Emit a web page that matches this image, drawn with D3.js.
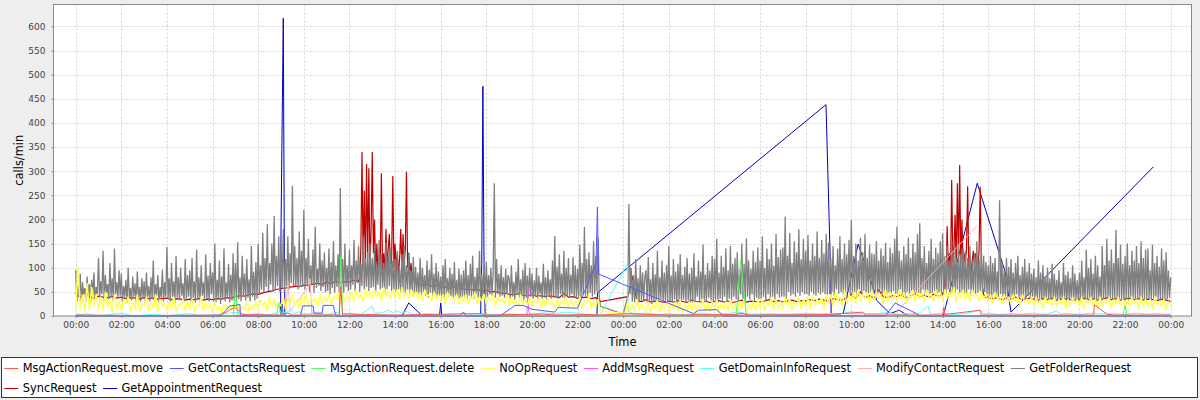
<!DOCTYPE html>
<html><head><meta charset="utf-8">
<script src="https://cdn.jsdelivr.net/npm/d3@7"></script>
<style>
body{margin:0;background:#eeeeee;}
svg{display:block;font-family:"DejaVu Sans",sans-serif;}
</style></head><body>
<svg id="chart" width="1200" height="400"></svg>
<script>
// ---------------- DATA ----------------
const seriesNames = ["MsgActionRequest.move","GetContactsRequest","MsgActionRequest.delete","NoOpRequest","AddMsgRequest","GetDomainInfoRequest","ModifyContactRequest","GetFolderRequest","SyncRequest","GetAppointmentRequest"];
const seriesColors = ["#FF5555","#5555FF","#55FF55","#FFFF55","#FF55FF","#55FFFF","#FFAFAF","#808080","#C00000","#0000C0"];
const yTickValues = [0,50,100,150,200,250,300,350,400,450,500,550,600];
const xLabel = "Time";
const yLabel = "calls/min";

// GetFolderRequest, day 1: from 0.00 h, every 0.05 h
const folderDay1 = [
95,30,62,38,88,25,70,45,58,30,82,40,66,28,75,42,90,32,60,45,
120,38,72,45,135,30,85,48,66,35,110,40,78,30,140,45,70,38,95,42,
88,30,62,40,75,28,100,38,58,32,82,40,68,28,92,35,60,30,78,38,
72,28,90,40,62,30,80,35,115,30,66,42,85,28,60,38,96,30,70,40,
143,35,78,30,110,40,72,28,125,38,80,32,100,42,68,30,118,35,85,40,
95,30,120,38,72,28,138,35,80,30,105,42,70,32,128,35,84,30,110,45,
90,30,150,28,75,38,115,25,82,35,140,30,70,40,108,28,86,32,130,30,
110,28,153,35,80,30,125,42,88,32,118,38,76,30,145,40,92,32,112,36,
150,45,105,55,172,48,120,60,190,52,110,65,150,50,207,55,125,62,165,50,
150,58,180,50,118,62,165,55,130,68,270,58,145,62,120,55,175,60,135,60,
220,55,120,62,160,50,105,65,138,48,185,58,98,62,150,52,115,60,132,50,
100,52,140,45,112,58,155,48,105,60,128,50,265,55,118,48,150,60,105,52,
138,55,105,65,158,52,115,68,145,50,108,62,165,55,120,60,132,52,150,58,
120,60,142,50,105,65,158,55,128,58,110,48,152,56,125,62,140,52,115,55,
118,50,135,55,98,48,128,52,145,45,105,55,132,48,95,52,122,45,102,50,
90,45,120,40,100,50,85,42,115,38,96,48,128,40,88,45,110,38,92,42,
82,40,105,38,118,45,78,40,100,42,88,38,112,40,75,38,98,36,86,40,
95,38,115,36,85,42,108,40,125,36,82,45,100,38,135,36,88,40,105,38,
112,40,85,45,100,42,92,275,38,118,45,88,40,105,42,80,38,98,40,85,
78,36,105,40,70,34,92,45,118,36,76,40,96,32,110,38,84,36,100,40,
88,36,74,40,100,32,84,45,70,36,108,38,80,34,95,40,76,36,115,38,
166,40,102,36,128,45,88,38,135,36,100,42,120,38,86,45,122,40,105,36,
98,40,148,36,110,45,185,42,118,38,132,48,105,40,155,45,125,50,162,42,
20];
const folderGap = [[24.0,4]];
// GetFolderRequest, day 2: from 24.20 h, every 0.05 h
const folderDay2 = [
40,232,45,100,30,85,28,118,35,78,28,105,32,90,30,82,
95,28,122,32,76,25,110,30,86,28,135,30,80,35,115,28,90,30,105,30,
145,30,84,28,118,35,92,25,108,32,128,30,85,34,102,28,120,32,88,28,
100,28,130,32,82,40,115,30,92,35,148,32,86,28,110,38,95,32,125,30,
118,32,160,28,90,36,125,32,102,40,140,30,95,36,145,32,108,40,120,34,
132,32,96,45,150,36,108,28,161,40,115,34,98,45,135,32,112,38,142,36,
115,36,165,40,100,32,140,45,118,36,150,40,104,34,170,45,122,38,138,40,
142,40,206,36,125,50,172,42,110,45,155,40,132,48,180,42,118,50,160,45,
135,45,168,42,115,50,150,45,125,42,175,48,120,44,158,50,130,45,170,44,
152,45,120,50,145,42,105,55,140,46,165,50,118,44,150,48,128,52,158,46,
199,46,125,50,150,42,115,55,162,46,132,52,170,48,120,46,148,50,130,46,
128,50,155,42,115,55,140,46,125,50,152,44,112,48,142,46,130,52,160,46,
185,46,135,55,115,46,145,42,128,50,162,46,120,52,150,44,132,48,170,46,
192,46,120,55,145,42,110,50,135,46,160,48,118,52,142,46,130,50,155,46,
171,50,125,46,145,55,115,46,155,50,132,48,120,55,150,46,128,50,140,46,
135,46,120,55,145,42,110,50,130,46,155,48,118,52,138,46,125,50,112,46,
105,40,125,36,110,45,120,40,92,36,240,45,115,40,95,36,120,40,102,38,
118,40,90,36,110,45,125,36,85,40,102,38,118,36,92,42,110,36,88,40,
98,35,80,32,115,36,90,32,105,35,82,33,100,36,78,32,108,35,88,33,
75,30,95,35,70,32,110,35,85,30,92,35,78,32,105,30,88,35,74,30,
90,30,115,35,80,32,138,35,100,30,118,32,88,35,125,30,105,35,82,30,
145,35,105,32,160,35,115,30,138,35,110,32,178,35,120,30,148,35,108,32,
125,35,150,32,105,40,135,35,115,32,145,35,110,33,155,35,120,32,138,35,
140,35,95,32,148,35,110,40,125,35,102,32,140,35,115,33,132,35,95,38,
80];

// NoOpRequest, day 1: from 0.0 h, every 0.1 h
const noOpDay1 = [
10,102,15,45,8,68,12,60,20,45,
15,40,10,50,20,35,8,45,15,30,
10,35,25,40,8,30,15,45,10,25,
20,40,10,30,15,45,8,35,20,25,
10,30,15,40,8,25,20,35,10,30,
15,35,8,25,20,40,10,30,15,25,
8,30,12,20,5,25,15,20,10,25,
15,25,8,20,12,30,10,20,15,30,
15,35,20,30,10,40,20,35,15,30,
20,40,15,35,25,45,20,35,15,40,
25,45,20,40,30,35,20,45,25,40,
30,45,25,40,35,50,25,45,30,40,
35,50,30,55,35,45,30,55,40,50,
35,55,40,50,30,60,40,50,35,55,
40,55,35,60,40,50,35,55,40,50,
35,50,30,55,40,45,30,50,35,45,
30,45,25,50,35,40,30,45,25,40,
30,45,25,40,35,50,25,40,30,45,
25,40,30,45,20,40,30,35,25,45,
20,40,25,35,20,45,25,35,20,40,
20,35,25,40,15,35,20,40,25,30,
15,35,20,30,25,40,15,35,20,30,
20,40,15,35,25,45,15,30,20,35,
10];
// NoOpRequest, day 2: from 24.1 h, every 0.1 h
const noOpDay2 = [
5,30,10,25,8,35,12,25,15,
10,30,5,25,15,35,8,25,12,30,
8,25,15,30,10,35,5,25,12,30,
10,30,8,25,15,35,10,25,8,30,
12,35,8,25,15,30,10,35,12,25,
10,30,15,35,8,25,12,30,10,35,
15,35,10,30,20,40,12,35,15,30,
15,40,20,35,12,30,20,40,15,35,
20,40,15,45,20,35,25,40,15,45,
25,45,20,50,30,40,20,55,25,45,
30,50,25,55,30,45,35,50,25,55,
30,50,35,45,25,55,30,50,35,45,
30,55,35,50,25,45,35,55,30,50,
35,50,30,55,40,45,30,55,35,50,
30,55,35,50,40,60,30,50,35,55,
35,50,30,55,40,45,30,50,35,45,
30,45,25,50,35,40,25,45,30,40,
25,45,30,40,20,45,30,35,25,40,
20,40,25,35,15,40,25,35,20,40,
20,35,25,40,15,35,20,40,25,35,
20,40,15,35,25,40,20,35,15,40,
20,35,25,40,15,35,25,40,20,35,
15,35,20,40,25,35,15,40,20,35,
20,35,15,40,25,30,20,35,15,30,
20];

// SyncRequest
const syncA = [ // from 0.0 h, every 0.2 h
47,38,55,40,37,41,39,38,40,37,
39,36,38,37,35,38,36,37,35,36,
37,34,36,35,33,35,34,36,33,35,
34,36,35,38,37,40,42,41,44,46,
45,48,50,52,55,57,58,60,62,61,
64,63,66,68,65,70,67,72,69,71,
70,74,72];
const syncSpikes1 = [ // from 12.45 h, every 0.05 h
80,140,340,110,260,100,315,120,306,95,180,340,130,200,90,150,85,120,100,296,
95,130,90,180,100,140,170,95,120,290,100,150,90,130,85,120,180,95,170,110,
140,299,100,130,85,110,75,90,70,72,68];
const syncB = [ // from 15.0 h, every 0.2 h
66,64,65,62,63,60,61,58,60,57,
56,55,54,55,52,53,50,51,48,47,
45,44,46,43,42,44,41,42,40,41,
40,38,47,39,40,37,38,39,36,38,
30];
const syncC = [ // from 24.2 h, every 0.2 h
40,82,32,30,34,29,31,30,28,
31,29,32,30,28,33,30,29,31,28,
30,32,29,31,28,30,33,29,31,30,
29,31,34,30,32,29,31,33,30,32,
31,34,32,35,33,31,36,34,33,38,
45,36,50,38,42,37,55,40,38,42,
40,44,38,42,46,40,43,39,45,41];
const syncSpikes2 = [ // from 37.85 h, every 0.05 h
42,45,40,48,44,90,60,186,100,130,95,282,110,140,210,100,275,120,313,105,
200,95,130,110,140,269,100,125,90,115,135,100,130,120,95,137,268,110,60,45,
40,38,42,37];
const syncD = [ // from 40.2 h, every 0.2 h
36,38,34,37,35,39,36,34,37,
35,33,36,34,37,33,35,36,34,33,
35,37,34,36,33,35,38,34,36,33,
35,37,34,36,33,35,34,32,35,33,
30];

// Sparse series: [hour, calls/min]
const movePoints = [[0,2],[3,1],[6.3,2],[6.6,8],[6.8,14],[7.0,18],[7.15,10],[7.3,3],[9.0,2],[9.3,6],[9.5,2],[11.55,2],[11.62,60],[11.7,4],[13.0,3],[14.0,2],[17.8,5],[18.0,2],[20.5,4],[21,2],[22.7,3],[23.0,2],[24.2,5],[26,2],[28.9,3],[29.2,6],[29.5,2],[33,3],[34.5,8],[34.6,2],[38.0,2],[38.05,18],[38.1,3],[39.65,12],[39.7,2],[44.62,2],[44.66,23],[45.2,4],[45.5,2],[48,2]];
const contactsPoints = [[0,0],[6.33,0],[6.6,12],[6.75,21],[7.0,22],[7.2,24],[7.22,0],[9.0,0],[9.05,25],[9.1,0],[9.85,0],[9.95,21],[10.4,21],[10.45,6],[10.8,6],[10.85,22],[11.3,22],[11.35,8],[11.45,0],[16.85,0],[17.0,8],[17.1,0],[18.6,0],[19.26,22],[19.62,22],[20.0,14],[21.0,8],[21.15,18],[22.0,16],[22.81,109],[22.87,226],[22.92,87],[27.08,5],[27.3,12],[28.1,13],[28.4,0],[35.5,0],[35.92,27],[36.85,5],[37.0,0],[48,0]];
const deletePoints = [[0,0],[6.9,0],[7.0,50],[7.1,5],[7.2,0],[8.8,0],[8.9,27],[9.0,0],[11.55,0],[11.62,123],[11.7,0],[28.95,0],[29.15,116],[29.4,0],[45.9,0],[46.0,21],[46.1,0],[48,0]];
const addMsgPoints = [[0,0],[19.78,0],[19.82,64],[19.85,12],[19.95,0],[48,0]];
const domainInfoPoints = [[0,2],[0.5,5],[1,0],[1.5,3],[2,6],[2.5,0],[3,2],[3.5,4],[4,0],[4.5,3],[5,5],[5.5,0],[6,2],[6.5,4],[7,8],[7.5,3],[8,5],[8.5,2],[9,10],[9.2,6],[9.4,12],[9.6,5],[9.8,9],[10,4],[10.5,6],[11,3],[11.5,8],[11.7,4],[12,6],[12.5,3],[13,20],[13.1,5],[13.5,8],[13.7,12],[13.9,7],[14.1,11],[14.3,6],[14.5,10],[14.7,4],[15,3],[15.5,5],[16,2],[16.5,4],[17,6],[17.5,2],[18,4],[18.5,3],[19,5],[19.5,2],[20,4],[20.5,6],[21,5],[21.5,8],[22,6],[22.5,3],[23,3],[24.18,108],[24.22,10],[24.5,4],[25,6],[25.5,3],[26,5],[26.5,2],[27,4],[27.5,6],[28,3],[28.5,5],[29,8],[29.5,4],[30,3],[30.5,5],[31,2],[31.5,4],[32,6],[32.5,3],[33,5],[33.5,4],[34,9],[34.5,6],[35,4],[35.5,7],[36,3],[36.5,5],[37,6],[37.37,21],[37.45,4],[38,6],[38.5,3],[39,5],[39.65,12],[39.8,4],[40,6],[40.5,3],[41,5],[41.5,4],[42,6],[42.5,3],[43,10],[43.2,4],[43.5,5],[44,3],[44.5,6],[45,4],[45.5,5],[46,3],[46.5,6],[47,4],[47.5,5],[48,3]];
const modifyContactPoints = [[0,0],[9.2,0],[9.3,72],[9.4,10],[10.2,60],[10.27,78],[10.35,5],[12,0],[35.92,5],[39.5,186]];
const appointmentPoints = [[0,0],[8.98,0],[9.0,178],[9.1,617],[9.14,195],[9.17,0],[14.3,0],[14.6,27],[15.2,0],[15.95,0],[16.0,27],[16.05,0],[17.75,0],[17.8,110],[17.85,476],[17.9,109],[17.95,0],[22.85,0],[22.87,48],[32.89,438],[33.08,109],[33.12,0],[33.65,6],[34.3,149],[35.04,47],[35.1,33],[35.7,5],[36.1,12],[36.5,0],[38.03,0],[39.52,275],[40.74,92],[41.0,8],[47.24,309]];

// ---------------- BUILD ----------------
function regular(start, step, vals){ return vals.map((v,i)=>[start + i*step, v]); }
const seriesData = [
  movePoints,
  contactsPoints,
  deletePoints,
  regular(0,0.1,noOpDay1).concat(regular(24.1,0.1,noOpDay2)),
  addMsgPoints,
  domainInfoPoints,
  modifyContactPoints,
  regular(0,0.05,folderDay1).concat(folderGap, regular(24.2,0.05,folderDay2)),
  regular(0,0.2,syncA).concat(regular(12.45,0.05,syncSpikes1), regular(15.0,0.2,syncB), regular(24.2,0.2,syncC), regular(37.85,0.05,syncSpikes2), regular(40.2,0.2,syncD)),
  appointmentPoints
];
const seriesWidths = [1,1,1,1.5,1,1,1,1.3,1.2,1];

const svg = d3.select("#chart");
const base = Date.UTC(2010,0,4);
const toDate = h => new Date(base + h*3600e3);
const L = 53.5, R = 1191.5, T = 4.5, B = 316;
const x = d3.scaleUtc().domain([toDate(-0.973), toDate(48.912)]).range([L, R]);
const y = d3.scaleLinear().domain([0, 645.5]).range([B, T]);

svg.append("rect").attr("width",1200).attr("height",400).attr("fill","#eeeeee");
svg.append("rect").attr("x",L).attr("y",T).attr("width",R-L).attr("height",B-T).attr("fill","#ffffff");

const xTicks = x.ticks(d3.utcHour.every(2));
const grid = svg.append("g").attr("stroke","#d4d4d4").attr("stroke-width",1).attr("stroke-dasharray","2,2");
grid.selectAll("line.v").data(xTicks).join("line").attr("class","v")
  .attr("x1",d=>Math.round(x(d))+0.5).attr("x2",d=>Math.round(x(d))+0.5).attr("y1",T).attr("y2",B);
grid.selectAll("line.h").data(yTickValues.filter(v=>v>0)).join("line").attr("class","h")
  .attr("x1",L).attr("x2",R).attr("y1",d=>Math.round(y(d))+0.5).attr("y2",d=>Math.round(y(d))+0.5);

svg.append("clipPath").attr("id","plotclip").append("rect").attr("x",L).attr("y",T).attr("width",R-L).attr("height",B-T+1);
const lineGen = d3.line().x(d=>x(toDate(d[0]))).y(d=>y(d[1]));
const lines = svg.append("g").attr("clip-path","url(#plotclip)");
for (let i = seriesData.length-1; i >= 0; i--) {
  lines.append("path").datum(seriesData[i]).attr("d",lineGen)
    .attr("fill","none").attr("stroke",seriesColors[i]).attr("stroke-width",seriesWidths[i])
    .attr("stroke-linejoin","miter").attr("stroke-miterlimit",2);
}

svg.append("rect").attr("x",L).attr("y",T).attr("width",R-L).attr("height",B-T)
  .attr("fill","none").attr("stroke","#888888");

const xAxis = svg.append("g").attr("transform",`translate(0,${B})`)
  .call(d3.axisBottom(x).tickValues(xTicks).tickFormat(d3.utcFormat("%H:%M")).tickSize(2).tickPadding(4));
const yAxis = svg.append("g").attr("transform",`translate(${L},0)`)
  .call(d3.axisLeft(y).tickValues(yTickValues).tickSize(2).tickPadding(6));
[xAxis,yAxis].forEach(a=>{
  a.select(".domain").remove();
  a.selectAll(".tick line").attr("stroke","#888888");
  a.selectAll(".tick text").attr("fill","#444444").attr("font-size",9).attr("font-family","DejaVu Sans");
});

svg.append("text").text(xLabel).attr("x",(L+R)/2).attr("y",342).attr("dy","0.35em")
  .attr("text-anchor","middle").attr("font-size",11.4).attr("fill","#000");
svg.append("text").text(yLabel).attr("transform",`translate(18.5,${(T+B)/2}) rotate(-90)`).attr("dy","0.35em")
  .attr("text-anchor","middle").attr("font-size",11.4).attr("fill","#000");

const legend = svg.append("g");
legend.append("rect").attr("x",1.5).attr("y",357.5).attr("width",1196).attr("height",40)
  .attr("fill","#ffffff").attr("stroke","#333333");
const rowY = [368.5, 388.5];
let cx = 4.3, row = 0;
seriesNames.forEach((name,i)=>{
  const g = legend.append("g");
  const t = g.append("text").text(name).attr("font-size",11.4).attr("dy","0.35em").attr("fill","#000");
  const w = t.node().getComputedTextLength();
  if (cx + 18.4 + w > 1195) { row++; cx = 4.3; }
  g.append("line").attr("x1",cx).attr("x2",cx+14).attr("y1",rowY[row]).attr("y2",rowY[row])
    .attr("stroke",seriesColors[i]).attr("stroke-width",1);
  t.attr("x",cx+18.4).attr("y",rowY[row]);
  cx += 18.4 + w + 6.6;
});
</script>
</body></html>
